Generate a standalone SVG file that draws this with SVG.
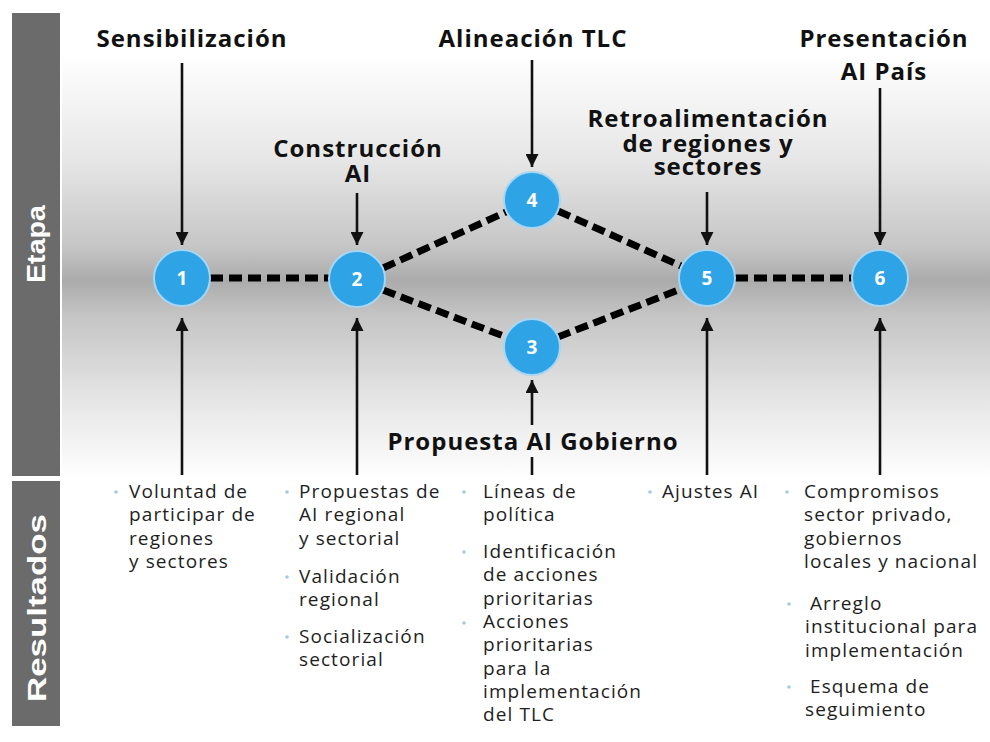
<svg xmlns="http://www.w3.org/2000/svg" width="990" height="742" viewBox="0 0 990 742">
<defs>
<linearGradient id="bg" x1="0" y1="0" x2="0" y2="1">
<stop offset="0" stop-color="#ffffff"/>
<stop offset="0.25" stop-color="#e6e6e6"/>
<stop offset="0.45" stop-color="#c6c6c6"/>
<stop offset="0.53" stop-color="#ababab"/>
<stop offset="0.61" stop-color="#c4c4c4"/>
<stop offset="0.8" stop-color="#e4e4e4"/>
<stop offset="1" stop-color="#ffffff"/>
</linearGradient>
<marker id="ah" viewBox="0 0 10 10" refX="10" refY="5" markerWidth="13" markerHeight="13" markerUnits="userSpaceOnUse" orient="auto">
<path d="M0,0 L10,5 L0,10 z" fill="#111"/>
</marker>
</defs>
<style>
.bar{fill:#6b6b6b}
.side{font-family:"Liberation Sans",Arial,sans-serif;font-weight:bold;font-size:25px;fill:#fff}
.head{font-family:"Open Sans","Noto Sans",sans-serif;font-weight:700;font-size:24px;fill:#111;letter-spacing:1px;text-anchor:middle}
.body{font-family:"Open Sans","Noto Sans",sans-serif;font-size:19px;fill:#1e1e1e;letter-spacing:1.1px}
.dot{fill:#a5c9e0}
.node circle{fill:#2ea3e6;stroke:#a8d6f2;stroke-width:2}
.node text{font-family:"Open Sans","Noto Sans",sans-serif;font-weight:700;font-size:19px;fill:#fff;text-anchor:middle}
.dash{stroke:#000;stroke-width:7;stroke-dasharray:13 6;fill:none}
.arr{stroke:#111;stroke-width:2.6;fill:none}
</style>
<rect x="62" y="55" width="928" height="425" fill="url(#bg)"/>
<g id="etapa-bar">
<rect class="bar" x="12" y="13" width="48" height="463"/>
<text class="side" transform="translate(45,244) rotate(-90)" text-anchor="middle" textLength="78" lengthAdjust="spacingAndGlyphs">Etapa</text>
</g>
<g id="resultados-bar">
<rect class="bar" x="12" y="481" width="48" height="245"/>
<text class="side" transform="translate(46,608) rotate(-90)" text-anchor="middle" textLength="188" lengthAdjust="spacingAndGlyphs">Resultados</text>
</g>
<g id="connectors">
<line class="dash" x1="210" y1="278" x2="329" y2="278"/>
<line class="dash" x1="383" y1="268" x2="506" y2="212"/>
<line class="dash" x1="383" y1="290" x2="506" y2="337"/>
<line class="dash" x1="558" y1="211" x2="681" y2="266"/>
<line class="dash" x1="558" y1="337" x2="681" y2="289"/>
<line class="dash" x1="735" y1="278" x2="852" y2="278"/>
<line class="arr" x1="182" y1="63" x2="182" y2="245" marker-end="url(#ah)"/>
<line class="arr" x1="357" y1="193" x2="357" y2="245" marker-end="url(#ah)"/>
<line class="arr" x1="532" y1="60" x2="532" y2="167" marker-end="url(#ah)"/>
<line class="arr" x1="707" y1="192" x2="707" y2="245" marker-end="url(#ah)"/>
<line class="arr" x1="880" y1="88" x2="880" y2="245" marker-end="url(#ah)"/>
<line class="arr" x1="182" y1="475" x2="182" y2="318" marker-end="url(#ah)"/>
<line class="arr" x1="357" y1="475" x2="357" y2="318" marker-end="url(#ah)"/>
<line class="arr" x1="532" y1="425" x2="532" y2="380" marker-end="url(#ah)"/>
<line class="arr" x1="532" y1="457" x2="532" y2="475"/>
<line class="arr" x1="707" y1="475" x2="707" y2="318" marker-end="url(#ah)"/>
<line class="arr" x1="880" y1="475" x2="880" y2="318" marker-end="url(#ah)"/>
</g>
<g id="n1" class="node"><circle cx="182" cy="278" r="28"/><text x="182" y="285">1</text></g>
<g id="n2" class="node"><circle cx="357" cy="279" r="28"/><text x="357" y="286">2</text></g>
<g id="n3" class="node"><circle cx="532" cy="347" r="28"/><text x="532" y="354">3</text></g>
<g id="n4" class="node"><circle cx="532" cy="200" r="28"/><text x="532" y="207">4</text></g>
<g id="n5" class="node"><circle cx="707" cy="278" r="28"/><text x="707" y="285">5</text></g>
<g id="n6" class="node"><circle cx="880" cy="278" r="28"/><text x="880" y="285">6</text></g>
<g id="labels">
<text class="head" x="192" y="47">Sensibilización</text>
<text class="head" x="358" y="157">Construcción</text>
<text class="head" x="358" y="182">AI</text>
<text class="head" x="533" y="47">Alineación TLC</text>
<text class="head" x="708" y="127">Retroalimentación</text>
<text class="head" x="708" y="152">de regiones y</text>
<text class="head" x="708" y="175">sectores</text>
<text class="head" x="884" y="47">Presentación</text>
<text class="head" x="884" y="80">AI País</text>
<text class="head" x="533" y="450">Propuesta AI Gobierno</text>
</g>
<g id="resultados">
<circle class="dot" cx="116" cy="492" r="1.8"/>
<text class="body" x="129" y="498"><tspan x="129">Voluntad de</tspan><tspan x="129" dy="23.3">participar de</tspan><tspan x="129" dy="23.3">regiones</tspan><tspan x="129" dy="23.3">y sectores</tspan></text>
<circle class="dot" cx="287" cy="492" r="1.8"/>
<circle class="dot" cx="287" cy="577" r="1.8"/>
<circle class="dot" cx="287" cy="637" r="1.8"/>
<text class="body" x="299" y="498"><tspan x="299">Propuestas de</tspan><tspan x="299" dy="23.3">AI regional</tspan><tspan x="299" dy="23.3">y sectorial</tspan></text>
<text class="body" x="299" y="583"><tspan x="299">Validación</tspan><tspan x="299" dy="23.3">regional</tspan></text>
<text class="body" x="299" y="643"><tspan x="299">Socialización</tspan><tspan x="299" dy="23.3">sectorial</tspan></text>
<circle class="dot" cx="464" cy="492" r="1.8"/>
<circle class="dot" cx="464" cy="552" r="1.8"/>
<circle class="dot" cx="464" cy="623" r="1.8"/>
<text class="body" x="483" y="498"><tspan x="483">Líneas de</tspan><tspan x="483" dy="23.3">política</tspan></text>
<text class="body" x="483" y="558"><tspan x="483">Identificación</tspan><tspan x="483" dy="23.3">de acciones</tspan><tspan x="483" dy="23.3">prioritarias</tspan><tspan x="483" dy="23.3">Acciones</tspan><tspan x="483" dy="23.3">prioritarias</tspan><tspan x="483" dy="23.3">para la</tspan><tspan x="483" dy="23.3">implementación</tspan><tspan x="483" dy="23.3">del TLC</tspan></text>
<circle class="dot" cx="650" cy="492" r="1.8"/>
<text class="body" x="662" y="498">Ajustes AI</text>
<circle class="dot" cx="787" cy="492" r="1.8"/>
<circle class="dot" cx="789" cy="604" r="1.8"/>
<circle class="dot" cx="789" cy="687" r="1.8"/>
<text class="body" x="804" y="498"><tspan x="804">Compromisos</tspan><tspan x="804" dy="23.3">sector privado,</tspan><tspan x="804" dy="23.3">gobiernos</tspan><tspan x="804" dy="23.3">locales y nacional</tspan></text>
<text class="body" x="810" y="610"><tspan x="810">Arreglo</tspan><tspan x="805" dy="23.3">institucional para</tspan><tspan x="805" dy="23.3">implementación</tspan></text>
<text class="body" x="810" y="693"><tspan x="810">Esquema de</tspan><tspan x="805" dy="23.3">seguimiento</tspan></text>
</g>
</svg>
